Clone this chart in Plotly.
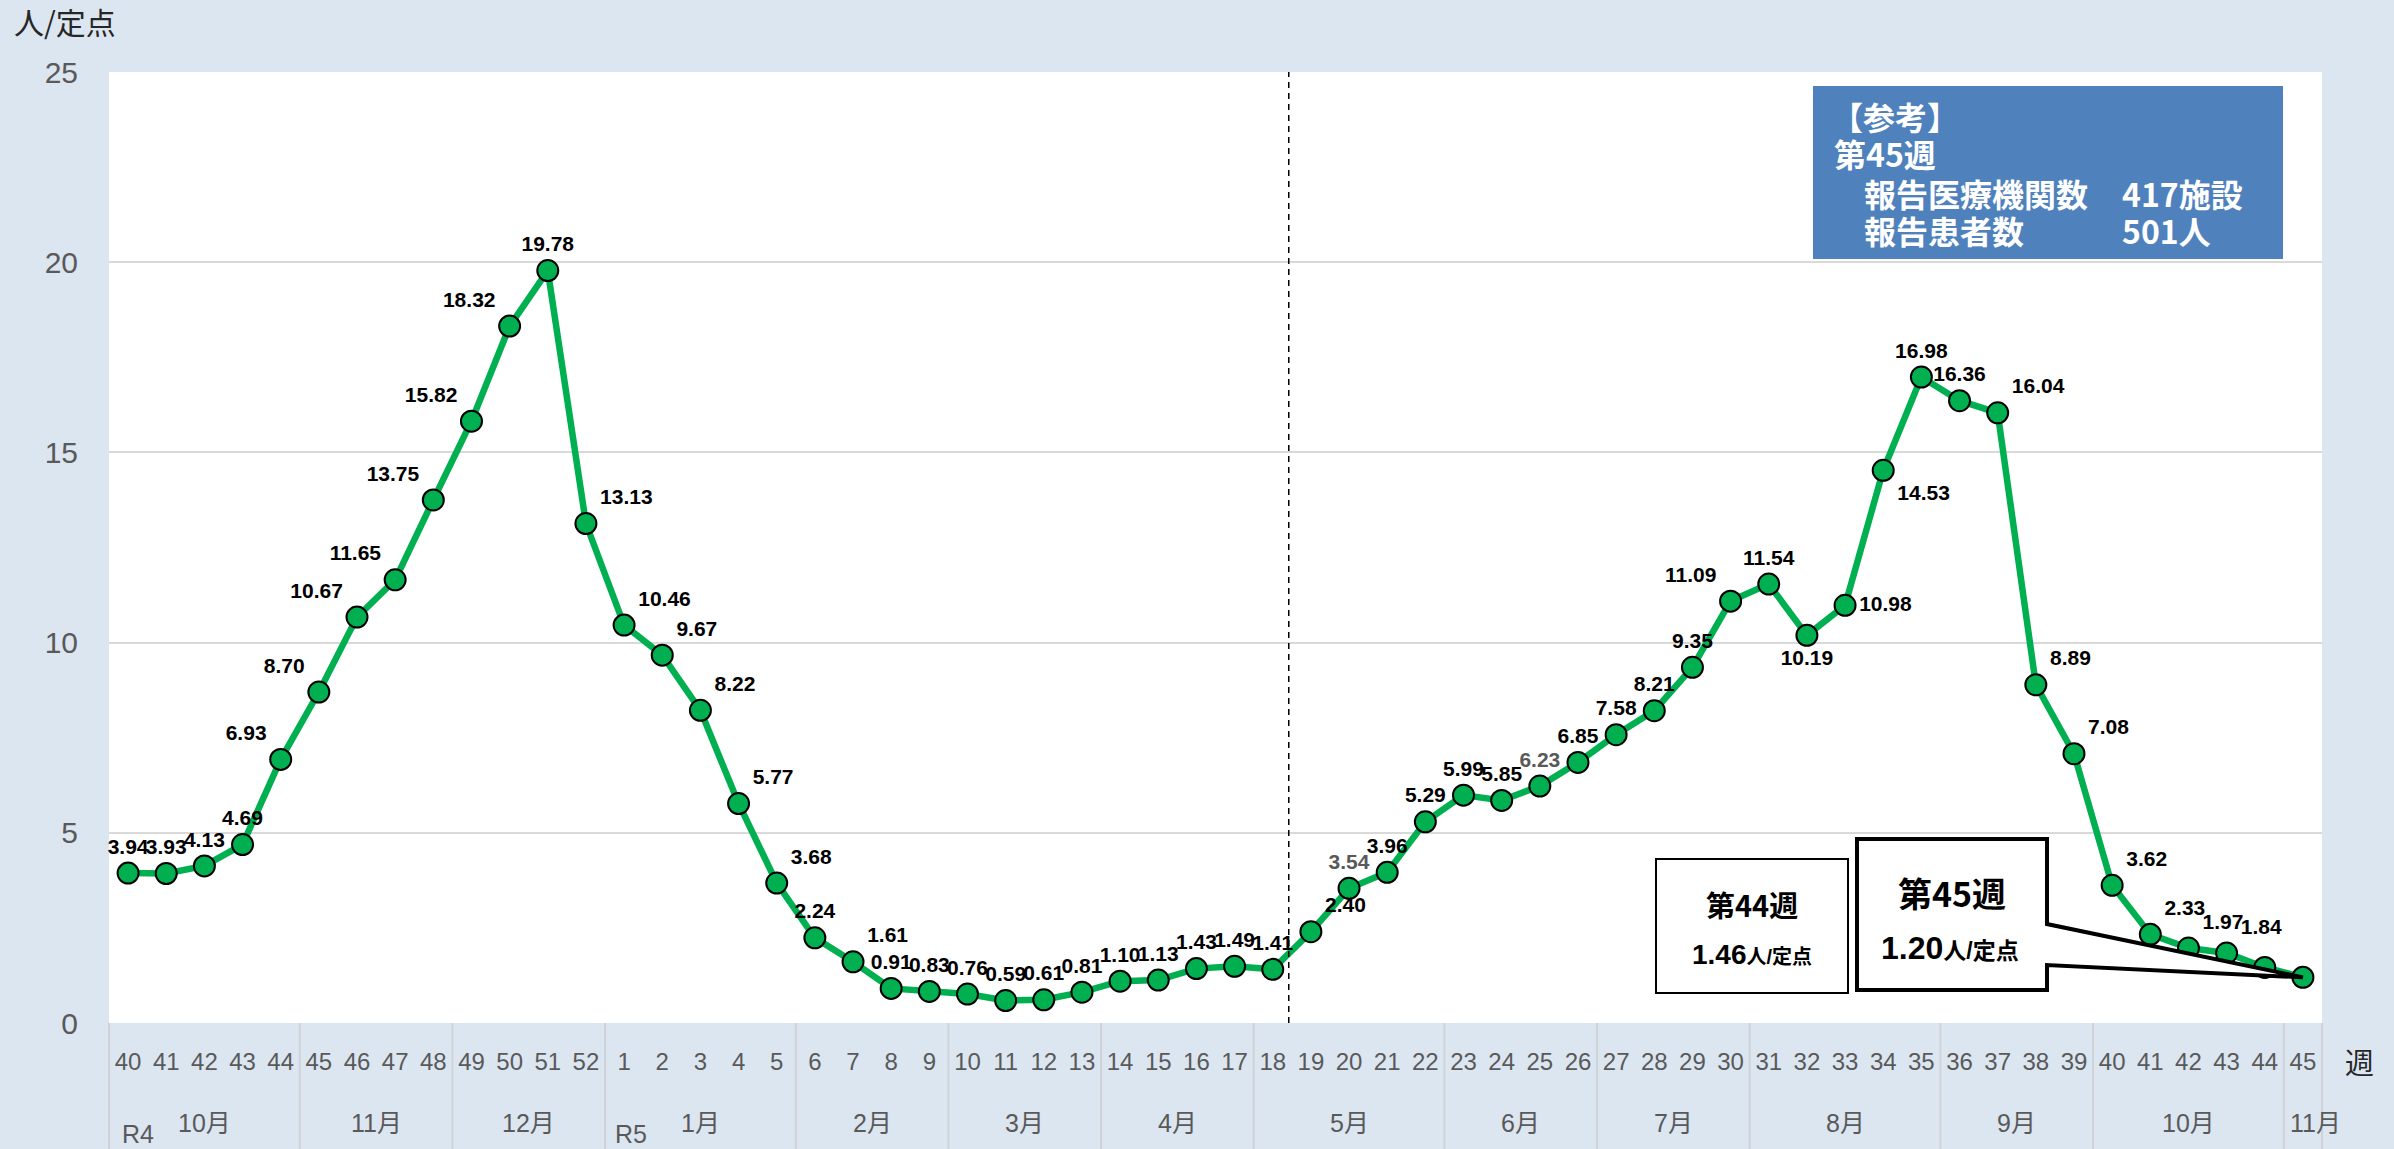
import plotly.graph_objects as go

# ---------------- data ----------------
weeks_r4 = [40, 41, 42, 43, 44, 45, 46, 47, 48, 49, 50, 51, 52]
weeks_r5 = list(range(1, 46))
week_labels = [str(w) for w in weeks_r4 + weeks_r5]

values_r4 = [3.94, 3.93, 4.13, 4.69, 6.93, 8.70, 10.67, 11.65, 13.75, 15.82, 18.32, 19.78, 13.13]
values_r5 = [10.46, 9.67, 8.22, 5.77, 3.68, 2.24, 1.61, 0.91, 0.83, 0.76,
             0.59, 0.61, 0.81, 1.10, 1.13, 1.43, 1.49, 1.41, 2.40, 3.54,
             3.96, 5.29, 5.99, 5.85, 6.23, 6.85, 7.58, 8.21, 9.35, 11.09,
             11.54, 10.19, 10.98, 14.53, 16.98, 16.36, 16.04, 8.89, 7.08, 3.62,
             2.33, 1.97, 1.84, 1.46, 1.20]
values = values_r4 + values_r5

month_labels = ["10月", "11月", "12月", "1月", "2月", "3月", "4月", "5月",
                "6月", "7月", "8月", "9月", "10月", "11月"]
month_counts = [5, 4, 4, 5, 4, 4, 4, 5, 4, 4, 5, 4, 5, 1]

year_labels = ["R4", "R5"]

info_title = "【参考】"
info_week = "第45週"
info_rows = [("報告医療機関数", "417施設"), ("報告患者数", "501人")]

prev_week_title = "第44週"
prev_week_value = "1.46"
cur_week_title = "第45週"
cur_week_value = "1.20"
unit = "人/定点"

# ---------------- layout geometry (pixels) ----------------
W, H = 2394, 1149
L, R, T, B = 109, 2322, 72, 1023
n = len(values)
YMAX = 25


def dx(px):
    return (px - L) / (R - L) * n - 0.5


def dy(py):
    return (B - py) / (B - T) * YMAX


def xp(px):
    return (px - L) / (R - L)


def yp(py):
    return (B - py) / (B - T)


# label placement per point
pos = []
for i in range(n):
    if i <= 3:
        pos.append("top center")
    elif i <= 10:
        pos.append("top left")
    elif i == 11:
        pos.append("top center")
    elif i <= 17:
        pos.append("top right")
    elif i == 18:
        pos.append("top center")
    elif i == 19:
        pos.append("top right")
    elif i <= 30:
        pos.append("top center")
    elif i == 31:
        pos.append("top right")
    elif i <= 41:
        pos.append("top center")
    elif i == 42:
        pos.append("top left")
    elif i == 43:
        pos.append("top center")
    elif i == 44:
        pos.append("bottom center")
    elif i == 45:
        pos.append("middle right")
    elif i == 46:
        pos.append("bottom right")
    elif i <= 48:
        pos.append("top center")
    else:
        pos.append("top right")

texts = [f"{v:.2f}" for v in values]
texts[-1] = ""
texts[-2] = ""
gray_idx = {12 + 20, 12 + 25}
text_colors = ["#595959" if i in gray_idx else "#000000" for i in range(n)]

xs = list(range(n))

fig = go.Figure()
fig.add_trace(go.Scatter(
    x=xs, y=values, mode="lines+markers+text",
    text=texts, textposition=pos,
    textfont=dict(family="Liberation Sans, Arial, sans-serif", size=21,
                  color=text_colors, weight="bold"),
    line=dict(color="#00b050", width=6.5),
    marker=dict(size=21, color="#00b050", line=dict(color="#000000", width=2)),
    cliponaxis=False, hoverinfo="skip", showlegend=False,
))

shapes = []
annotations = []

# month separators in the category band
cum = 0
bounds = [0]
for c in month_counts:
    cum += c
    bounds.append(cum)
for b in bounds:
    shapes.append(dict(type="line", xref="paper", yref="paper",
                       x0=b / n, x1=b / n, y0=0, y1=yp(H + 2),
                       line=dict(color="#cfd3d8", width=2), layer="below"))

label_font = dict(family="Liberation Sans, Noto Sans CJK JP, sans-serif", size=25, color="#595959")

# month labels
start = 0
for i, (lab, c) in enumerate(zip(month_labels, month_counts)):
    if i == len(month_labels) - 1:
        annotations.append(dict(text=lab, xref="x", yref="paper", x=dx(2288),
                                y=yp(1123), xanchor="left", yanchor="middle",
                                showarrow=False, font=label_font))
    else:
        annotations.append(dict(text=lab, xref="x", yref="paper", x=start + (c - 1) / 2,
                                y=yp(1123), xanchor="center", yanchor="middle",
                                showarrow=False, font=label_font))
    start += c

# year labels
for lab, px in zip(year_labels, [138, 631]):
    annotations.append(dict(text=lab, xref="paper", yref="paper", x=xp(px), y=yp(1134),
                            xanchor="center", yanchor="middle", showarrow=False,
                            font=label_font))

# axis unit labels
annotations.append(dict(text="週", xref="paper", yref="paper", x=xp(2359), y=yp(1061),
                        xanchor="center", yanchor="middle", showarrow=False,
                        font=dict(family="Noto Sans CJK JP, sans-serif", size=29, color="#262626")))
annotations.append(dict(text="人/定点", xref="paper", yref="paper", x=xp(12), y=yp(21),
                        xanchor="left", yanchor="middle", showarrow=False,
                        font=dict(family="Noto Sans CJK JP, sans-serif", size=30, color="#262626")))

# dashed separator line
shapes.append(dict(type="line", xref="x", yref="y", x0=30.42, x1=30.42, y0=0, y1=YMAX,
                   line=dict(color="#000000", width=1.5, dash="6px,5px")))

# info box
shapes.append(dict(type="rect", xref="paper", yref="paper",
                   x0=xp(1813), x1=xp(2283), y0=yp(259), y1=yp(86),
                   fillcolor="#4f81bd", line=dict(width=0), layer="above"))
info_font = dict(family="Noto Sans CJK JP, sans-serif", size=32, color="#ffffff", weight="bold")
annotations.append(dict(text=info_title, xref="paper", yref="paper", x=xp(1829), y=yp(116),
                        xanchor="left", yanchor="middle", showarrow=False, font=info_font))
annotations.append(dict(text=info_week, xref="paper", yref="paper", x=xp(1832), y=yp(153),
                        xanchor="left", yanchor="middle", showarrow=False, font=info_font))
for (a, b), py in zip(info_rows, [193, 230]):
    annotations.append(dict(text=a, xref="paper", yref="paper", x=xp(1862), y=yp(py),
                            xanchor="left", yanchor="middle", showarrow=False, font=info_font))
    annotations.append(dict(text=b, xref="paper", yref="paper", x=xp(2120), y=yp(py),
                            xanchor="left", yanchor="middle", showarrow=False, font=info_font))

# week 44 box
shapes.append(dict(type="rect", xref="x", yref="y",
                   x0=dx(1656), x1=dx(1848), y0=dy(993), y1=dy(859),
                   fillcolor="#ffffff", line=dict(color="#000000", width=2), layer="above"))
box_font = "Liberation Sans, Noto Sans CJK JP, sans-serif"
annotations.append(dict(text=prev_week_title, xref="x", yref="y", x=dx(1752), y=dy(904),
                        xanchor="center", yanchor="middle", showarrow=False,
                        font=dict(family="Noto Sans CJK JP, sans-serif", size=29, color="#000000", weight="bold")))
annotations.append(dict(text=f"{prev_week_value}<span style='font-size:20px'>{unit}</span>",
                        xref="x", yref="y", x=dx(1752), y=dy(954),
                        xanchor="center", yanchor="middle", showarrow=False,
                        font=dict(family=box_font, size=28, color="#000000", weight="bold")))

# week 45 callout box with pointer to the latest point
tipx, tipy = xs[-1], values[-1]
pts = [(dx(1857), dy(839)), (dx(2047), dy(839)), (dx(2047), dy(924)),
       (tipx, tipy), (dx(2047), dy(965)), (dx(2047), dy(990)), (dx(1857), dy(990))]
path = "M " + " L ".join(f"{a},{b}" for a, b in pts) + " Z"
shapes.append(dict(type="path", xref="x", yref="y", path=path,
                   fillcolor="#ffffff", line=dict(color="#000000", width=4), layer="above"))
annotations.append(dict(text=cur_week_title, xref="x", yref="y", x=dx(1952), y=dy(892),
                        xanchor="center", yanchor="middle", showarrow=False,
                        font=dict(family="Noto Sans CJK JP, sans-serif", size=34, color="#000000", weight="bold")))
annotations.append(dict(text=f"{cur_week_value}<span style='font-size:23px'>{unit}</span>",
                        xref="x", yref="y", x=dx(1950), y=dy(948),
                        xanchor="center", yanchor="middle", showarrow=False,
                        font=dict(family=box_font, size=32, color="#000000", weight="bold")))

fig.update_layout(
    width=W, height=H,
    margin=dict(l=L, r=W - R, t=T, b=H - B, pad=0),
    paper_bgcolor="#dce6f1", plot_bgcolor="#ffffff",
    shapes=shapes, annotations=annotations,
    showlegend=False,
    xaxis=dict(range=[-0.5, n - 0.5], tickmode="array", tickvals=xs, ticktext=week_labels,
               showgrid=False, zeroline=False, showline=False,
               ticklabelstandoff=22,
               tickfont=dict(family="Liberation Sans, sans-serif", size=24, color="#595959")),
    yaxis=dict(range=[0, YMAX], tickmode="array", tickvals=[0, 5, 10, 15, 20, 25],
               showgrid=True, gridcolor="#d9d9d9", gridwidth=2, zeroline=False, showline=False,
               ticklabelstandoff=30,
               tickfont=dict(family="Liberation Sans, sans-serif", size=30, color="#595959")),
)

fig.write_html("out.html", config={"displayModeBar": False},
               post_script="document.body.style.margin='0';document.body.style.overflow='hidden';")
